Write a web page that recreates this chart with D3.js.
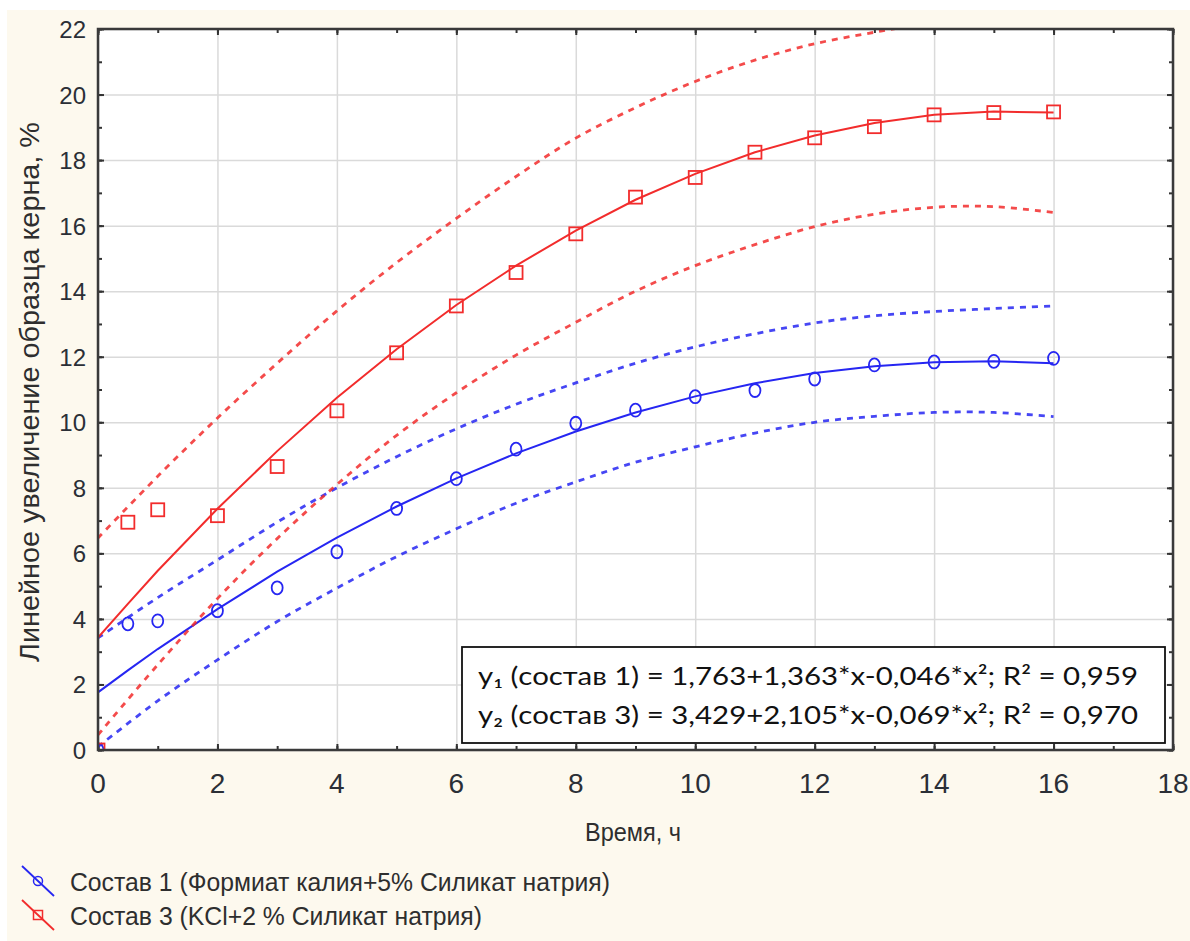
<!DOCTYPE html>
<html>
<head>
<meta charset="utf-8">
<script src="https://cdn.jsdelivr.net/npm/d3@7"></script>
<style>
  html, body { margin: 0; padding: 0; background: #ffffff; overflow: hidden; }
  svg { display: block; }
  .tick-label { font-family: "Liberation Sans", Arial, sans-serif; fill: #2b2f36; }
  .axis-label { font-family: "Liberation Sans", Arial, sans-serif; fill: #2e2e2e; }
  .eq-text { font-family: Lato, "Open Sans", sans-serif; fill: #111; }
</style>
</head>
<body>
<div id="chart"></div>
<script>
// Measured points (time, h) and linear growth, %
const timeH = [0, 0.5, 1, 2, 3, 4, 5, 6, 7, 8, 9, 10, 11, 12, 13, 14, 15, 16];
const sostav1 = [0, 3.85, 3.94, 4.25, 4.95, 6.05, 7.37, 8.28, 9.18, 9.97, 10.37, 10.78, 10.97, 11.32, 11.75, 11.84, 11.86, 11.95];
const sostav3 = [0, 6.95, 7.33, 7.15, 8.65, 10.35, 12.12, 13.55, 14.57, 15.75, 16.87, 17.47, 18.24, 18.68, 19.02, 19.38, 19.45, 19.47];

// Regression lines as drawn (values at the same times)
const fit1 = [1.76, 2.43, 3.08, 4.30, 5.44, 6.48, 7.43, 8.29, 9.05, 9.72, 10.30, 10.79, 11.19, 11.50, 11.71, 11.83, 11.86, 11.80];
const fit3 = [3.43, 4.46, 5.47, 7.36, 9.12, 10.75, 12.23, 13.58, 14.78, 15.85, 16.79, 17.58, 18.24, 18.75, 19.13, 19.38, 19.48, 19.45];

// Dotted bands, read at whole hours
const bandX = [0, 1, 2, 3, 4, 5, 6, 7, 8, 9, 10, 11, 12, 13, 14, 15, 16];
const upper1 = [3.42, 4.65, 5.8, 6.95, 8.0, 8.95, 9.8, 10.55, 11.2, 11.8, 12.3, 12.7, 13.03, 13.25, 13.38, 13.47, 13.55];
const lower1 = [0.1, 1.5, 2.75, 3.92, 4.94, 5.9, 6.75, 7.53, 8.18, 8.78, 9.25, 9.67, 10.0, 10.18, 10.3, 10.3, 10.17];
const upper3 = [6.47, 8.35, 10.13, 11.8, 13.4, 14.87, 16.22, 17.5, 18.67, 19.6, 20.4, 21.05, 21.55, 21.9, 22.2, 22.4, 22.5];
const lower3 = [0.46, 2.6, 4.62, 6.45, 8.1, 9.6, 10.9, 12.05, 13.05, 14.0, 14.78, 15.42, 15.97, 16.35, 16.56, 16.58, 16.4];

const xTicks = [0, 2, 4, 6, 8, 10, 12, 14, 16, 18];
const yTicks = [0, 2, 4, 6, 8, 10, 12, 14, 16, 18, 20, 22];
const legendNames = ["Состав 1 (Формиат калия+5% Силикат натрия)", "Состав 3 (KCl+2 % Силикат натрия)"];

const width = 1190, height = 941;
const margin = { top: 29, right: 17, bottom: 191, left: 98 };
const innerWidth = width - margin.left - margin.right;
const innerHeight = height - margin.top - margin.bottom;

const blue = "#2626f2", red = "#f22c2c";

const svg = d3.select("#chart")
  .append("svg")
  .attr("width", width)
  .attr("height", height);

// cream page background
svg.append("rect")
  .attr("x", 7).attr("y", 10)
  .attr("width", width - 7).attr("height", height - 10)
  .attr("fill", "#fdf9ee");

const inner = svg.append("g")
  .attr("transform", `translate(${margin.left}, ${margin.top})`);

inner.append("rect")
  .attr("width", innerWidth).attr("height", innerHeight)
  .attr("fill", "#ffffff");

inner.append("clipPath").attr("id", "plot-clip")
  .append("rect").attr("width", innerWidth).attr("height", innerHeight);

const xScale = d3.scaleLinear().domain([0, 18]).range([0, innerWidth]);
const yScale = d3.scaleLinear().domain([0, 22]).range([innerHeight, 0]);

// grid
inner.append("g")
  .call(d3.axisBottom(xScale).tickValues(xTicks).tickSize(innerHeight).tickFormat(""))
  .call(g => g.select(".domain").remove())
  .call(g => g.selectAll("line").attr("stroke", "#dadada").attr("stroke-width", 1.5));
inner.append("g")
  .call(d3.axisLeft(yScale).tickValues(yTicks).tickSize(-innerWidth).tickFormat(""))
  .call(g => g.select(".domain").remove())
  .call(g => g.selectAll("line").attr("stroke", "#dadada").attr("stroke-width", 1.5));

// inward ticks on all four sides
const minorX = d3.range(0, 19, 1), minorY = d3.range(0, 23, 1);
function tickSide(axisFn, scale, vals, size, transform) {
  inner.append("g")
    .attr("transform", transform)
    .call(axisFn(scale).tickValues(vals).tickSize(size).tickFormat(""))
    .call(g => g.select(".domain").remove())
    .call(g => g.selectAll("line").attr("stroke", "#333").attr("stroke-width", 2));
}
tickSide(d3.axisBottom, xScale, minorX, -4, `translate(0, ${innerHeight})`);
tickSide(d3.axisBottom, xScale, xTicks, -6, `translate(0, ${innerHeight})`);
tickSide(d3.axisTop, xScale, minorX, -4, "translate(0,0)");
tickSide(d3.axisTop, xScale, xTicks, -6, "translate(0,0)");
tickSide(d3.axisLeft, yScale, minorY, -4, "translate(0,0)");
tickSide(d3.axisLeft, yScale, yTicks, -6, "translate(0,0)");
tickSide(d3.axisRight, yScale, minorY, -4, `translate(${innerWidth},0)`);
tickSide(d3.axisRight, yScale, yTicks, -6, `translate(${innerWidth},0)`);

// tick labels
inner.append("g").selectAll("text")
  .data(xTicks)
  .join("text")
    .attr("class", "tick-label")
    .attr("x", d => xScale(d))
    .attr("y", innerHeight + 43)
    .attr("text-anchor", "middle")
    .attr("font-size", 28)
    .text(d => d);
inner.append("g").selectAll("text")
  .data(yTicks)
  .join("text")
    .attr("class", "tick-label")
    .attr("x", -12)
    .attr("y", d => yScale(d) + 9)
    .attr("text-anchor", "end")
    .attr("font-size", 24)
    .text(d => d);

// plotted content
const plot = inner.append("g").attr("clip-path", "url(#plot-clip)");

const bandLine = d3.line()
  .x((d, i) => xScale(bandX[i]))
  .y(d => yScale(d))
  .curve(d3.curveCatmullRom);
const fitLine = d3.line()
  .x((d, i) => xScale(timeH[i]))
  .y(d => yScale(d));

const series = [
  { name: legendNames[0], len: 540, color: blue, pts: sostav1, fit: fit1, bands: [upper1, lower1], shape: "circle" },
  { name: legendNames[1], len: 412, color: red, pts: sostav3, fit: fit3, bands: [upper3, lower3], shape: "square" }
];

series.forEach(s => {
  s.bands.forEach(b => {
    plot.append("path")
      .attr("d", bandLine(b))
      .attr("fill", "none")
      .attr("stroke", s.color)
      .attr("stroke-width", 2.8)
      .attr("stroke-dasharray", "6,6")
      .attr("opacity", 0.85);
  });
  plot.append("path")
    .attr("d", fitLine(s.fit))
    .attr("fill", "none")
    .attr("stroke", s.color)
    .attr("stroke-width", 2);
});

series.forEach(s => {
  if (s.shape === "circle") {
    plot.selectAll(null)
      .data(s.pts)
      .join("ellipse")
        .attr("cx", (d, i) => xScale(timeH[i]))
        .attr("cy", d => yScale(d))
        .attr("rx", 5.5).attr("ry", 6.5)
        .attr("fill", "none")
        .attr("stroke", s.color)
        .attr("stroke-width", 1.8);
  } else {
    plot.selectAll(null)
      .data(s.pts)
      .join("rect")
        .attr("x", (d, i) => xScale(timeH[i]) - 6.5)
        .attr("y", d => yScale(d) - 6.5)
        .attr("width", 13).attr("height", 13)
        .attr("fill", "none")
        .attr("stroke", s.color)
        .attr("stroke-width", 1.8);
  }
});

// frame
inner.append("rect")
  .attr("width", innerWidth).attr("height", innerHeight)
  .attr("fill", "none")
  .attr("stroke", "#3a3a3a")
  .attr("stroke-width", 2.5);

// equation box
const box = svg.append("g").attr("transform", "translate(462, 647)");
box.append("rect")
  .attr("width", 703).attr("height", 96)
  .attr("fill", "#ffffff")
  .attr("stroke", "#111")
  .attr("stroke-width", 1.8);
const eqs = [
  { sub: "₁", text: " (состав 1) = 1,763+1,363*x-0,046*x²; R² = 0,959" },
  { sub: "₂", text: " (состав 3) = 3,429+2,105*x-0,069*x²; R² = 0,970" }
];
eqs.forEach((e, i) => {
  const t = box.append("text")
    .attr("class", "eq-text")
    .attr("x", 16)
    .attr("y", 38 + i * 39)
    .attr("font-size", 25)
    .attr("textLength", 660)
    .attr("lengthAdjust", "spacingAndGlyphs");
  t.append("tspan").text("y");
  t.append("tspan").text(e.sub);
  t.append("tspan").text(e.text);
});

// axis titles
svg.append("text")
  .attr("class", "axis-label")
  .attr("x", 633).attr("y", 841)
  .attr("text-anchor", "middle")
  .attr("font-size", 25)
  .attr("textLength", 96)
  .attr("lengthAdjust", "spacingAndGlyphs")
  .text("Время, ч");

svg.append("text")
  .attr("class", "axis-label")
  .attr("transform", "translate(39, 392) rotate(-90)")
  .attr("text-anchor", "middle")
  .attr("font-size", 28)
  .attr("textLength", 540)
  .attr("lengthAdjust", "spacingAndGlyphs")
  .text("Линейное увеличение образца керна, %");

// legend
const legend = svg.append("g").attr("transform", "translate(20, 866)");
series.forEach((s, i) => {
  const g = legend.append("g").attr("transform", `translate(0, ${i * 34})`);
  g.append("line")
    .attr("x1", 2).attr("y1", 0).attr("x2", 34).attr("y2", 30)
    .attr("stroke", s.color).attr("stroke-width", 1.8);
  if (s.shape === "circle") {
    g.append("circle").attr("cx", 18).attr("cy", 15).attr("r", 4.5)
      .attr("fill", "none").attr("stroke", s.color).attr("stroke-width", 1.5);
  } else {
    g.append("rect").attr("x", 13.5).attr("y", 10.5).attr("width", 9).attr("height", 9)
      .attr("fill", "none").attr("stroke", s.color).attr("stroke-width", 1.5);
  }
  g.append("text")
    .attr("class", "axis-label")
    .attr("x", 50).attr("y", 25)
    .attr("font-size", 26)
    .attr("textLength", s.len)
    .attr("lengthAdjust", "spacingAndGlyphs")
    .text(s.name);
});
</script>
</body>
</html>
